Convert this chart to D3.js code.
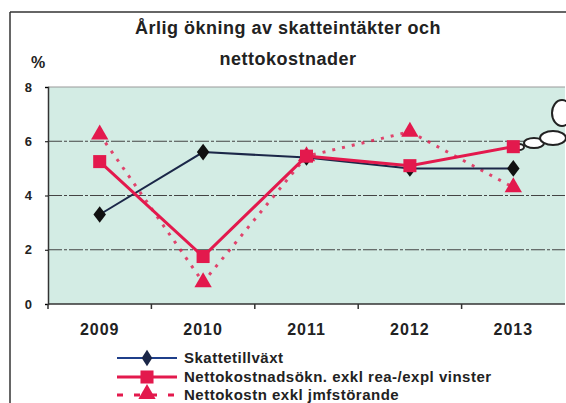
<!DOCTYPE html>
<html>
<head>
<meta charset="utf-8">
<script src="https://cdn.jsdelivr.net/npm/d3@7"></script>
<style>
  body { margin: 0; background: #fff; }
  text { font-family: "Liberation Sans", Arial, sans-serif; }
</style>
</head>
<body>
<svg id="chart" width="566" height="403"></svg>
<script>
// data
const years = ["2009", "2010", "2011", "2012", "2013"];
const skattetillvaxt = [3.3, 5.6, 5.4, 5.0, 5.0];
const nettokostnad = [5.25, 1.75, 5.45, 5.1, 5.8];
const nettokostnJmf = [6.25, 0.8, 5.45, 6.35, 4.3];
const yTicks = [0, 2, 4, 6, 8];
const titleLines = ["Årlig ökning av skatteintäkter och", "nettokostnader"];
const legendNames = ["Skattetillväxt", "Nettokostnadsökn. exkl rea-/expl vinster", "Nettokostn exkl jmfstörande"];

const svg = d3.select("#chart");
const red = "#e3194d";
const navy = "#1b2748";

const x = d3.scaleBand().domain(years).range([48, 565]).paddingInner(0).paddingOuter(0);
const y = d3.scaleLinear().domain([0, 8]).range([304, 87]);
const cx = d => x(d) + x.bandwidth() / 2;

// outer frame
svg.append("line").attr("x1", 10).attr("x2", 566).attr("y1", 12).attr("y2", 12)
  .attr("stroke", "#333").attr("stroke-width", 1.5);
svg.append("line").attr("x1", 10).attr("x2", 10).attr("y1", 12).attr("y2", 403)
  .attr("stroke", "#333").attr("stroke-width", 1.5);

// title
svg.selectAll(".title").data(titleLines).enter().append("text")
  .attr("x", 288).attr("y", (d, i) => 34 + i * 31)
  .attr("text-anchor", "middle").attr("font-size", 18).attr("font-weight", "bold")
  .attr("letter-spacing", 0.5).attr("fill", "#222").text(d => d);

svg.append("text").attr("x", 31).attr("y", 68).attr("font-size", 16)
  .attr("font-weight", "bold").attr("fill", "#222").text("%");

// plot area
svg.append("rect").attr("x", 48).attr("y", y(8)).attr("width", 565 - 48).attr("height", y(0) - y(8))
  .attr("fill", "#d3ece4");

// gridlines
svg.append("g").selectAll("line").data(yTicks.filter(d => d > 0)).enter().append("line")
  .attr("x1", 48).attr("x2", 565).attr("y1", d => y(d)).attr("y2", d => y(d))
  .attr("stroke", d => d === 8 ? "#999" : "#444").attr("stroke-width", 1.2)
  .attr("stroke-dasharray", d => d === 8 ? null : "14,2,3,2");

// y axis
const yAxis = svg.append("g").attr("transform", "translate(48,0)")
  .call(d3.axisLeft(y).tickValues(yTicks).tickSize(3).tickPadding(13));
yAxis.select(".domain").attr("stroke", "#333").attr("stroke-width", 1.5);
yAxis.selectAll("text").attr("font-size", 13).attr("font-weight", "bold").attr("fill", "#222");

// x axis, ticks between categories
const xAxis = svg.append("g").attr("transform", "translate(0," + y(0) + ")");
xAxis.append("line").attr("x1", 48).attr("x2", 565).attr("stroke", "#333").attr("stroke-width", 1.5);
xAxis.selectAll(".tk").data(years).enter().append("line")
  .attr("x1", d => x(d)).attr("x2", d => x(d)).attr("y1", 0).attr("y2", 5)
  .attr("stroke", "#333").attr("stroke-width", 1.5);
xAxis.selectAll("text").data(years).enter().append("text")
  .attr("x", d => cx(d)).attr("y", 31).attr("text-anchor", "middle")
  .attr("font-size", 16).attr("font-weight", "bold").attr("letter-spacing", 1)
  .attr("fill", "#222").text(d => d);

// thought bubbles on right edge
const bubbles = [[519, 147, 5, 3], [534, 143, 10, 5], [553, 138, 13, 7], [562, 113, 10, 13]];
svg.append("g").selectAll("ellipse").data(bubbles).enter().append("ellipse")
  .attr("cx", d => d[0]).attr("cy", d => d[1]).attr("rx", d => d[2]).attr("ry", d => d[3])
  .attr("fill", "#fff").attr("stroke", "#222").attr("stroke-width", 2);

const line = d3.line().x((d, i) => cx(years[i])).y(d => y(d));
const tri = d3.symbol().type(d3.symbolTriangle).size(130);
const sq = d3.symbol().type(d3.symbolSquare).size(170);
const dia = d3.symbol().type(d3.symbolDiamond).size(80);

// series 3: dotted with triangles
svg.append("path").datum(nettokostnJmf).attr("d", line).attr("fill", "none")
  .attr("stroke", red).attr("stroke-opacity", 0.8).attr("stroke-width", 3).attr("stroke-dasharray", "3,7");
svg.append("g").selectAll("path").data(nettokostnJmf).enter().append("path")
  .attr("d", tri).attr("fill", red)
  .attr("transform", (d, i) => "translate(" + cx(years[i]) + "," + y(d) + ")");

// series 1: tax growth
svg.append("path").datum(skattetillvaxt).attr("d", line).attr("fill", "none")
  .attr("stroke", navy).attr("stroke-width", 2);
svg.append("g").selectAll("path").data(skattetillvaxt).enter().append("path")
  .attr("d", dia).attr("fill", "#111")
  .attr("transform", (d, i) => "translate(" + cx(years[i]) + "," + y(d) + ") scale(1.3,1)");

// series 2: solid with squares
svg.append("path").datum(nettokostnad).attr("d", line).attr("fill", "none")
  .attr("stroke", red).attr("stroke-width", 3);
svg.append("g").selectAll("path").data(nettokostnad).enter().append("path")
  .attr("d", sq).attr("fill", red)
  .attr("transform", (d, i) => "translate(" + cx(years[i]) + "," + y(d) + ")");

// legend
const lg = svg.append("g");
const rowY = [358, 377, 395];
lg.append("line").attr("x1", 117).attr("x2", 177).attr("y1", rowY[0]).attr("y2", rowY[0])
  .attr("stroke", "#1f3f8a").attr("stroke-width", 2);
lg.append("path").attr("d", dia).attr("fill", navy)
  .attr("transform", "translate(147," + rowY[0] + ") scale(1.1,1)");
lg.append("line").attr("x1", 117).attr("x2", 177).attr("y1", rowY[1]).attr("y2", rowY[1])
  .attr("stroke", red).attr("stroke-width", 3);
lg.append("path").attr("d", sq).attr("fill", red).attr("transform", "translate(147," + rowY[1] + ")");
lg.append("line").attr("x1", 117).attr("x2", 177).attr("y1", rowY[2]).attr("y2", rowY[2])
  .attr("stroke", red).attr("stroke-width", 3).attr("stroke-dasharray", "6,11");
lg.append("path").attr("d", tri).attr("fill", red).attr("transform", "translate(147," + (rowY[2] - 1) + ")");
lg.selectAll("text").data(legendNames).enter().append("text")
  .attr("x", 184).attr("y", (d, i) => rowY[i] + 5)
  .attr("font-size", 15).attr("font-weight", "bold").attr("letter-spacing", 0.5)
  .attr("fill", "#222").text(d => d);
</script>
</body>
</html>
